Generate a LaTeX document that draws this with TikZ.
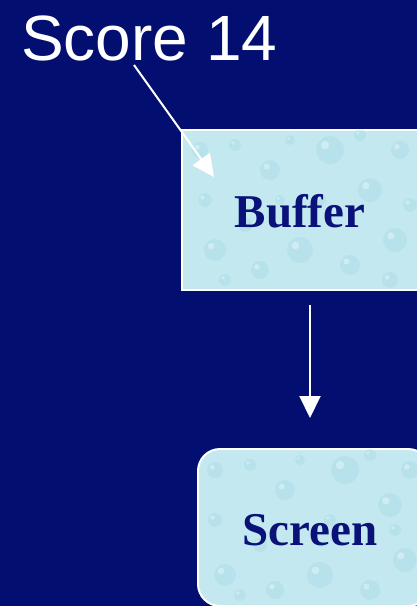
\documentclass[tikz,border=0pt]{standalone}
\usepackage{fontspec}
\setmainfont{Liberation Serif}
\newfontfamily\scorefont{Liberation Sans}
\usetikzlibrary{arrows.meta}
\definecolor{bgnavy}{HTML}{020F70}
\definecolor{txtnavy}{HTML}{0A127A}
\definecolor{water}{HTML}{C3E8EF}
\definecolor{waterdark}{HTML}{A6D8E4}
\definecolor{waterlight}{HTML}{E2F5F8}
\tikzset{
  waterbox/.style={draw=white, line width=2pt, fill=water, inner sep=0pt},
  boxtext/.style={font=\fontsize{47}{50}\selectfont\bfseries, text=txtnavy, inner sep=0pt},
  wharrow/.style={draw=white, line width=2pt, -{Triangle[length=22pt,width=21pt]}},
  drop/.style={fill=waterdark, opacity=0.35},
  glint/.style={fill=waterlight, opacity=0.55}
}
\begin{document}
\begin{tikzpicture}[x=1pt,y=-1pt]
\fill[bgnavy] (0,0) rectangle (417,606);
\useasboundingbox (0,0) rectangle (417,606);
\clip (0,0) rectangle (417,606);
% Buffer box
\node[waterbox, minimum width=246pt, minimum height=160pt, anchor=north west] (buffer) at (181,129) {};
\begin{scope}
\clip (182,130) rectangle (426,288);
\foreach \x/\y/\r in {200/150/8, 235/145/6, 270/170/10, 330/150/14, 370/190/12, 400/150/9, 215/250/11, 260/270/9, 300/250/13, 350/265/10, 395/240/12, 205/200/7, 390/280/8, 320/200/6, 245/225/7, 290/140/5, 360/135/6, 225/280/6, 410/205/7, 280/200/5}
  {\fill[drop] (\x,\y) circle (\r); \fill[glint] (\x-\r*0.35,\y-\r*0.35) circle (\r*0.3);}
\end{scope}
\node[boxtext] (buffertext) at (300,211) {Buffer};
% Screen box
\node[waterbox, rounded corners=22pt, minimum width=232pt, minimum height=157pt, anchor=north west] (screen) at (197,448) {};
\begin{scope}
\clip[rounded corners=21pt] (198,449) rectangle (428,604);
\foreach \x/\y/\r in {215/470/8, 250/465/6, 285/490/10, 345/470/14, 390/505/12, 410/470/9, 225/575/11, 275/590/9, 320/575/13, 370/590/10, 405/560/12, 215/520/7, 330/520/6, 260/545/7, 300/460/5, 370/455/6, 240/595/6, 395/530/6}
  {\fill[drop] (\x,\y) circle (\r); \fill[glint] (\x-\r*0.35,\y-\r*0.35) circle (\r*0.3);}
\end{scope}
\node[boxtext] (screentext) at (310,530) {Screen};
% Score label
\node[anchor=base west, inner sep=0pt, text=white, font=\scorefont\fontsize{64}{70}\selectfont] (score) at (21,60) {Score 14};
\coordinate (scorefoot) at (134,65);
\coordinate (ptr) at (214,177);
\draw[wharrow] (scorefoot) -- (ptr);
% Down arrow
\coordinate (dtop) at (310,305);
\coordinate (dbot) at (310,418);
\draw[wharrow] (dtop) -- (dbot);
\end{tikzpicture}
\end{document}
